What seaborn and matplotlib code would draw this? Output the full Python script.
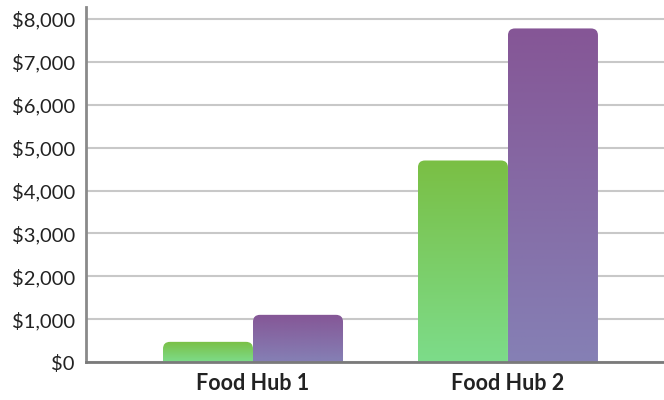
import numpy as np
import pandas as pd
import matplotlib
matplotlib.use("Agg")
import matplotlib.pyplot as plt
import seaborn as sns
from matplotlib.patches import FancyBboxPatch
from matplotlib.colors import LinearSegmentedColormap
from matplotlib.ticker import FuncFormatter

hubs = ["Food Hub 1", "Food Hub 2"]
series = ["A", "B"]
values_a = [470, 4700]
values_b = [1100, 7780]

top_colors = {"A": "#7abf44", "B": "#855696"}
bottom_colors = {"A": "#7ddc8a", "B": "#8580b5"}

df = pd.DataFrame({
    "hub": hubs * 2,
    "serie": ["A"] * 2 + ["B"] * 2,
    "valor": values_a + values_b,
})

sns.set_style("white")
plt.rcParams["font.family"] = ["Lato", "DejaVu Sans"]

fig = plt.figure(figsize=(6.64, 4.0), dpi=100)
ax = fig.add_axes([86 / 664, 38 / 400, 1 - 86 / 664, 355 / 400])

sns.barplot(data=df, x="hub", y="valor", hue="serie", hue_order=series,
            width=0.706, ax=ax, legend=False, saturation=1)

ax.set_xlim(-0.655, 1.612)
ax.set_ylim(0, 8280)
ax.set_yticks(np.arange(0, 8001, 1000))
ax.yaxis.set_major_formatter(FuncFormatter(lambda v, p: f"${v:,.0f}"))
ax.yaxis.grid(True, color="#c8c8c8", linewidth=1.5)
ax.set_axisbelow(True)

# barras con degradado y esquinas superiores redondeadas
px_x = 1 / 255
px_y = 8280 / 355
aspect = px_y / px_x
for bar, serie in zip(ax.patches, ["A", "A", "B", "B"]):
    x0, w, h = bar.get_x(), bar.get_width(), bar.get_height()
    bar.set_visible(False)
    r = 7 * px_x
    box = FancyBboxPatch((x0, -500), w, h + 500,
                         boxstyle=f"round,pad=0,rounding_size={r}",
                         mutation_aspect=aspect, facecolor="none",
                         edgecolor="none", transform=ax.transData)
    ax.add_patch(box)
    cmap = LinearSegmentedColormap.from_list(
        serie, [bottom_colors[serie], top_colors[serie]])
    grad = np.linspace(0, 1, 256).reshape(-1, 1)
    im = ax.imshow(grad, cmap=cmap, aspect="auto", origin="lower",
                   extent=(x0, x0 + w, 0, h), zorder=2)
    im.set_clip_path(box)

ax.set_xlim(-0.655, 1.612)
ax.set_ylim(0, 8280)

for s in ["top", "right"]:
    ax.spines[s].set_visible(False)
ax.spines["left"].set_color("#8a8a8a")
ax.spines["left"].set_linewidth(2)
ax.spines["bottom"].set_color("#7a7a7a")
ax.spines["bottom"].set_linewidth(2)

ax.set_xlabel("")
ax.set_ylabel("")
ax.tick_params(axis="y", labelsize=14.5, labelcolor="#222222", length=0, pad=8)
ax.tick_params(axis="x", labelsize=15.5, labelcolor="#222222", length=0, pad=8)
for lab in ax.get_xticklabels():
    lab.set_fontweight("bold")

fig.savefig("out.png", dpi=100)
